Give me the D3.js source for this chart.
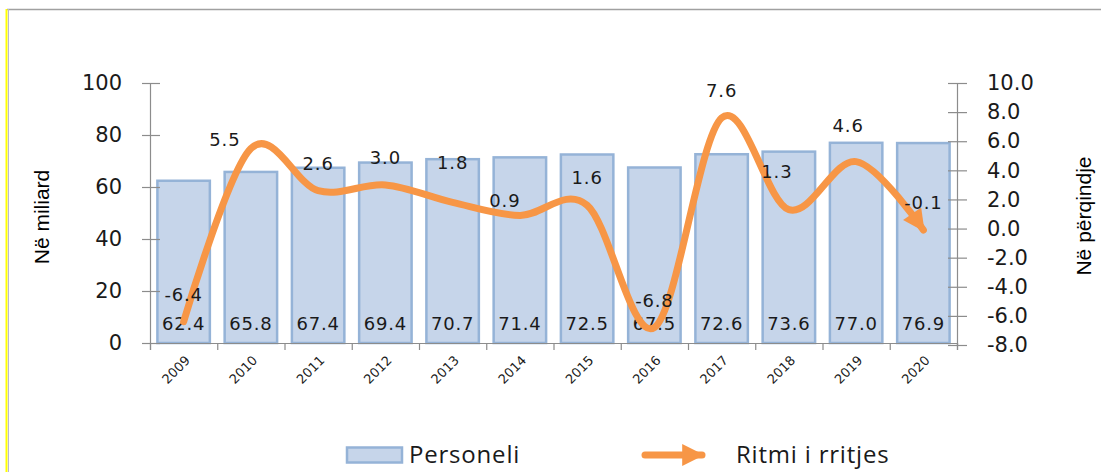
<!DOCTYPE html>
<html>
<head>
<meta charset="utf-8">
<script src="https://cdn.jsdelivr.net/npm/d3@7"></script>
<style>
  body { margin: 0; background: #fff; }
  svg { display: block; }
</style>
</head>
<body>
<script>
// DATA
var years = ["2009", "2010", "2011", "2012", "2013", "2014", "2015", "2016", "2017", "2018", "2019", "2020"];
var personeli = [62.4, 65.8, 67.4, 69.4, 70.7, 71.4, 72.5, 67.5, 72.6, 73.6, 77.0, 76.9];
var ritmi = [-6.4, 5.5, 2.6, 3.0, 1.8, 0.9, 1.6, -6.8, 7.6, 1.3, 4.6, -0.1];
var leftTicks = [0, 20, 40, 60, 80, 100];
var rightTicks = [-8, -6, -4, -2, 0, 2, 4, 6, 8, 10];

var W = 1101, H = 472;
var plot = {left: 150, right: 957, top: 83, bottom: 343};

var barFill = "#c6d5ea", barStroke = "#95b3d7", orange = "#f79646", axisColor = "#8c8c8c";
var numFont = "'DejaVu Sans', Verdana, sans-serif";
var txtFont = "'Liberation Sans', Arial, sans-serif";

// small nudges for the line labels that excel moved off centre
var nudge = {"2010": [-26, 18], "2013": [0, -12], "2014": [-15, 13], "2018": [-12, -11], "2019": [-8, -9]};

var svg = d3.select("body").append("svg")
    .attr("width", W)
    .attr("height", H);

// frame
svg.append("line").attr("x1", 7).attr("x2", W).attr("y1", 9.5).attr("y2", 9.5)
    .attr("stroke", "#a0a0a0").attr("stroke-width", 1.5);
svg.append("line").attr("x1", 6.5).attr("x2", 6.5).attr("y1", 9).attr("y2", H)
    .attr("stroke", "#ffff00").attr("stroke-width", 2);
svg.append("line").attr("x1", 8.5).attr("x2", 8.5).attr("y1", 9).attr("y2", H)
    .attr("stroke", "#b8b8d0").attr("stroke-width", 1);

// SCALES
var x = d3.scaleBand().domain(years).range([plot.left, plot.right])
    .paddingInner(0.22).paddingOuter(0.11);
var xIdx = d3.scaleLinear().domain([0, years.length]).range([plot.left, plot.right]);
var yL = d3.scaleLinear().domain([0, 100]).range([plot.bottom, plot.top]);
var yR = d3.scaleLinear().domain([-8, 10]).range([plot.bottom + 2, plot.top]);

// BARS
svg.append("g").selectAll("rect")
    .data(personeli)
  .enter().append("rect")
    .attr("x", function(d, i) { return x(years[i]); })
    .attr("y", function(d) { return yL(d); })
    .attr("width", x.bandwidth())
    .attr("height", function(d) { return yL(0) - yL(d); })
    .attr("fill", barFill)
    .attr("stroke", barStroke)
    .attr("stroke-width", 2.5);

// AXES
var leftAxis = svg.append("g")
    .attr("transform", "translate(" + plot.left + ",0)")
    .call(d3.axisLeft(yL).tickValues(leftTicks).tickSize(8).tickPadding(20).tickSizeOuter(0));
leftAxis.selectAll(".tick line").attr("x1", 10);

var rightAxis = svg.append("g")
    .attr("transform", "translate(" + plot.right + ",0)")
    .call(d3.axisRight(yR).tickValues(rightTicks).tickSize(10).tickPadding(20).tickSizeOuter(0)
      .tickFormat(function(d) { return d.toFixed(1); }));
rightAxis.selectAll(".tick line").attr("x1", -9);

var bottomAxis = svg.append("g")
    .attr("transform", "translate(0," + plot.bottom + ")")
    .call(d3.axisBottom(xIdx).tickValues(d3.range(years.length + 1)).tickSize(7).tickFormat(""));

[leftAxis, rightAxis, bottomAxis].forEach(function(a) {
  a.selectAll("path, line").attr("stroke", axisColor).attr("stroke-width", 1.2);
  a.selectAll("text").attr("fill", "#1a1a1a").style("font-family", numFont).style("font-size", "21px");
});

// year labels
svg.append("g").selectAll("text")
    .data(years)
  .enter().append("text")
    .attr("transform", function(d) {
      return "translate(" + (x(d) + x.bandwidth() / 2 + 4) + "," + (plot.bottom + 15) + ") rotate(-45)";
    })
    .attr("text-anchor", "end")
    .attr("dy", "0.35em")
    .style("font-family", numFont)
    .style("font-size", "13px")
    .attr("fill", "#1a1a1a")
    .text(function(d) { return d; });

// bar value labels
svg.append("g").selectAll("text")
    .data(personeli)
  .enter().append("text")
    .attr("x", function(d, i) { return x(years[i]) + x.bandwidth() / 2; })
    .attr("y", yL(0) - 13)
    .attr("text-anchor", "middle")
    .style("font-family", numFont)
    .style("font-size", "18px")
    .style("letter-spacing", "0.8px")
    .attr("fill", "#1a1a1a")
    .text(function(d) { return d.toFixed(1); });

// LINE
svg.append("defs").append("marker")
    .attr("id", "arrow")
    .attr("viewBox", "0 0 10 10")
    .attr("refX", 9).attr("refY", 5)
    .attr("markerUnits", "userSpaceOnUse")
    .attr("markerWidth", 24).attr("markerHeight", 22)
    .attr("orient", "auto")
  .append("path")
    .attr("d", "M0,0 L10,5 L0,10 Z")
    .attr("fill", orange);

var line = d3.line()
    .x(function(d, i) { return x(years[i]) + x.bandwidth() / 2; })
    .y(function(d) { return yR(d); })
    .curve(d3.curveCardinal.tension(0));

svg.append("path")
    .datum(ritmi)
    .attr("d", line)
    .attr("fill", "none")
    .attr("stroke", orange)
    .attr("stroke-width", 7)
    .attr("stroke-linecap", "round")
    .attr("marker-end", "url(#arrow)");

// line value labels
svg.append("g").selectAll("text")
    .data(ritmi)
  .enter().append("text")
    .attr("x", function(d, i) { return x(years[i]) + x.bandwidth() / 2 + (nudge[years[i]] ? nudge[years[i]][0] : 0); })
    .attr("y", function(d, i) { return yR(d) - 21 + (nudge[years[i]] ? nudge[years[i]][1] : 0); })
    .attr("text-anchor", "middle")
    .style("font-family", numFont)
    .style("font-size", "18px")
    .style("letter-spacing", "0.8px")
    .attr("fill", "#1a1a1a")
    .text(function(d) { return d.toFixed(1); });

// AXIS TITLES
svg.append("text")
    .attr("transform", "translate(49,217) rotate(-90)")
    .attr("text-anchor", "middle")
    .style("font-family", txtFont)
    .style("font-size", "21px")
    .attr("fill", "#000")
    .text("Në miliard");

svg.append("text")
    .attr("transform", "translate(1091,216) rotate(-90)")
    .attr("text-anchor", "middle")
    .style("font-family", txtFont)
    .style("font-size", "21px")
    .attr("fill", "#000")
    .text("Në përqindje");

// LEGEND
var legend = svg.append("g").attr("transform", "translate(0,455)");
legend.append("rect")
    .attr("x", 347).attr("y", -7.5).attr("width", 55).attr("height", 15)
    .attr("fill", barFill).attr("stroke", barStroke).attr("stroke-width", 2.5);
legend.append("text")
    .attr("x", 409).attr("y", 8)
    .style("font-family", "'Open Sans', sans-serif")
    .style("font-size", "24px")
    .style("letter-spacing", "0.8px")
    .attr("fill", "#1a1a1a")
    .text("Personeli");
legend.append("line")
    .attr("x1", 645).attr("x2", 702).attr("y1", 0).attr("y2", 0)
    .attr("stroke", orange).attr("stroke-width", 7).attr("stroke-linecap", "round")
    .attr("marker-end", "url(#arrow)");
legend.append("text")
    .attr("x", 736).attr("y", 8)
    .style("font-family", "'Open Sans', sans-serif")
    .style("font-size", "24px")
    .style("letter-spacing", "0.8px")
    .attr("fill", "#1a1a1a")
    .text("Ritmi i rritjes");
</script>
</body>
</html>
